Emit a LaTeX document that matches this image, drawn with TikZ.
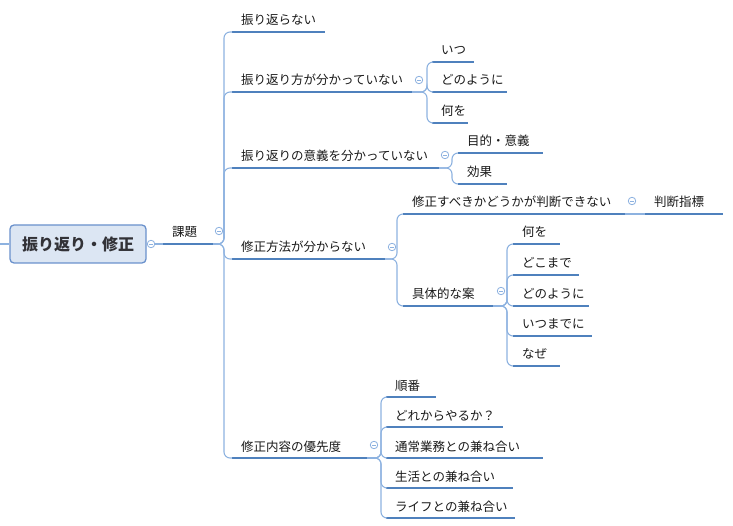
\documentclass[tikz,border=0pt]{standalone}
\usepackage{fontspec}
\setmainfont{Noto Sans CJK JP}
\definecolor{ulinec}{RGB}{79,129,189}
\definecolor{connc}{RGB}{141,178,224}
\definecolor{txtc}{RGB}{25,25,25}
\definecolor{rootf}{RGB}{220,230,243}
\definecolor{rootd}{RGB}{106,145,204}
\definecolor{rootc}{RGB}{50,50,55}
\tikzset{
  uline/.style={draw=ulinec, line width=2.2pt},
  conn/.style={draw=connc, line width=1.1pt, rounded corners=6pt},
  tx/.style={anchor=base west, inner sep=0pt, font=\fontsize{12.5}{12.5}\selectfont, text=txtc},
  fold/.style={circle, draw=connc, fill=white, line width=0.8pt, minimum size=7.5pt, inner sep=0pt,
    path picture={\draw[connc, line width=0.8pt] ([xshift=-2pt]path picture bounding box.center) -- ([xshift=2pt]path picture bounding box.center);}},
  rootbox/.style={draw=rootd, fill=rootf, rounded corners=4pt, line width=1.3pt, minimum width=136pt,
    minimum height=38pt, inner sep=0pt, font=\fontsize{16}{16}\selectfont\bfseries, text=rootc}
}
\newcommand\topic[5]{%
  \coordinate (#1-s) at (#2,#3);
  \coordinate (#1-e) at (#4,#3);
  \node[tx] (#1) at ({#2+9},{#3-7}) {#5};
  \draw[uline] (#1-s) -- (#1-e);
}
\begin{document}
\begin{tikzpicture}[x=1pt,y=-1pt]
\useasboundingbox (0,0) rectangle (733,526);
% root
\node[rootbox] (root) at (78,244) {振り返り・修正};
\coordinate (L) at (0,244);
\draw[conn] (L) -- (root.west);
% level 1
\topic{kadai}{163}{244}{213}{課題}
\draw[conn] (root.east) -- (kadai-s);
\coordinate (kadai-j) at (224,244);
% level 2
\topic{a1}{232}{32}{325}{振り返らない}
\topic{a2}{232}{92}{412}{振り返り方が分かっていない}
\topic{a3}{232}{168}{439}{振り返りの意義を分かっていない}
\topic{a4}{232}{259}{385}{修正方法が分からない}
\topic{a5}{232}{458}{367}{修正内容の優先度}
\foreach \c in {a1,a2,a3,a4,a5} \draw[conn] (kadai-e) -- (kadai-j) |- (\c-s);
% a2
\coordinate (a2-j) at (427,92);
\topic{b1}{432}{62}{474}{いつ}
\topic{b2}{432}{92}{507}{どのように}
\topic{b3}{432}{123}{468}{何を}
\foreach \c in {b1,b2,b3} \draw[conn] (a2-e) -- (a2-j) |- (\c-s);
% a3
\coordinate (a3-j) at (452,168);
\topic{c1}{458}{153}{543}{目的・意義}
\topic{c2}{458}{184}{507}{効果}
\foreach \c in {c1,c2} \draw[conn] (a3-e) -- (a3-j) |- (\c-s);
% a4
\coordinate (a4-j) at (397,259);
\topic{d1}{403}{214}{625}{修正すべきかどうかが判断できない}
\topic{d2}{403}{306}{493}{具体的な案}
\foreach \c in {d1,d2} \draw[conn] (a4-e) -- (a4-j) |- (\c-s);
% d1
\topic{e1}{645}{214}{723}{判断指標}
\draw[conn] (d1-e) -- (e1-s);
% d2
\coordinate (d2-j) at (507,306);
\topic{f1}{513}{244}{560}{何を}
\topic{f2}{513}{275}{579}{どこまで}
\topic{f3}{513}{306}{589}{どのように}
\topic{f4}{513}{336}{592}{いつまでに}
\topic{f5}{513}{366}{560}{なぜ}
\foreach \c in {f1,f2,f3,f4,f5} \draw[conn] (d2-e) -- (d2-j) |- (\c-s);
% a5
\coordinate (a5-j) at (381,458);
\topic{g1}{386}{397}{436}{順番}
\topic{g2}{386}{427}{503}{どれからやるか？}
\topic{g3}{386}{458}{543}{通常業務との兼ね合い}
\topic{g4}{386}{488}{513}{生活との兼ね合い}
\topic{g5}{386}{518}{515}{ライフとの兼ね合い}
\foreach \c in {g1,g2,g3,g4,g5} \draw[conn] (a5-e) -- (a5-j) |- (\c-s);
% fold markers
\node[fold] (f-root) at (151,244) {};
\node[fold] (f-kadai) at (219,231) {};
\node[fold] (f-a2) at (419,80) {};
\node[fold] (f-a3) at (445,155) {};
\node[fold] (f-a4) at (392,247) {};
\node[fold] (f-d1) at (632,201) {};
\node[fold] (f-d2) at (501,291) {};
\node[fold] (f-a5) at (374,445) {};
\end{tikzpicture}
\end{document}
